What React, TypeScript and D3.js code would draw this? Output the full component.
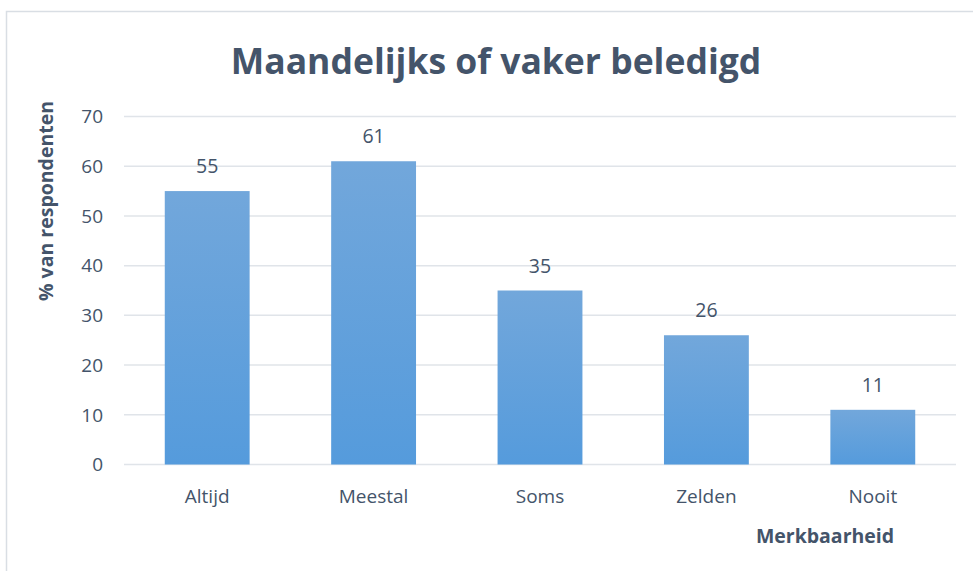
import React from "react";
import * as d3 from "d3";

const categories = ["Altijd", "Meestal", "Soms", "Zelden", "Nooit"];
const values = [55, 61, 35, 26, 11];
const yTicks = [0, 10, 20, 30, 40, 50, 60, 70];
const title = "Maandelijks of vaker beledigd";
const yTitle = "% van respondenten";
const xTitle = "Merkbaarheid";

const W = 973;
const H = 571;
const FONT = "'Open Sans', 'Noto Sans', sans-serif";
const TEXT = "#44546A";

export default function App() {
  const x = d3.scaleBand<string>().domain(categories).range([124, 956]).paddingInner(0.49).paddingOuter(0.245);
  const y = d3.scaleLinear().domain([0, 70]).range([464.5, 116.5]);
  return (
    <svg width={W} height={H} style={{ position: "absolute", left: 0, top: 0 }}>
      <defs>
        <linearGradient id="barGrad" x1="0" y1="0" x2="0" y2="1">
          <stop offset="0" stopColor="#72A7DB" />
          <stop offset="1" stopColor="#559BDC" />
        </linearGradient>
      </defs>
      <rect x={0} y={0} width={W} height={H} fill="#fff" />
      <rect x={6.5} y={11.5} width={W + 10} height={H + 10} fill="none" stroke="#D9DEE4" strokeWidth={1.5} />
      <text x={496} y={74} textAnchor="middle" fontFamily={FONT} fontWeight={700} fontSize={35.5} fill={TEXT}>
        {title}
      </text>
      {yTicks.map((t) => (
        <g key={t}>
          <line x1={124} x2={956} y1={y(t)} y2={y(t)} stroke="#E0E4E9" strokeWidth={1.5} />
          <text x={103} y={y(t)} dy="0.36em" textAnchor="end" fontFamily={FONT} fontSize={19} fill={TEXT}>
            {t}
          </text>
        </g>
      ))}
      {categories.map((c, i) => (
        <g key={c}>
          <rect x={x(c)} y={y(values[i])} width={x.bandwidth()} height={y(0) - y(values[i])} fill="url(#barGrad)" />
          <text x={x(c)! + x.bandwidth() / 2} y={y(values[i]) - 18} textAnchor="middle" fontFamily={FONT} fontSize={19.5} fill={TEXT}>
            {values[i]}
          </text>
          <text x={x(c)! + x.bandwidth() / 2} y={503} textAnchor="middle" fontFamily={FONT} fontSize={19} fill={TEXT}>
            {c}
          </text>
        </g>
      ))}
      <text transform={`translate(53,201) rotate(-90)`} textAnchor="middle" fontFamily={FONT} fontWeight={700} fontSize={19.5} fill={TEXT}>
        {yTitle}
      </text>
      <text x={825} y={543} textAnchor="middle" fontFamily={FONT} fontWeight={700} fontSize={19.5} fill={TEXT}>
        {xTitle}
      </text>
    </svg>
  );
}
